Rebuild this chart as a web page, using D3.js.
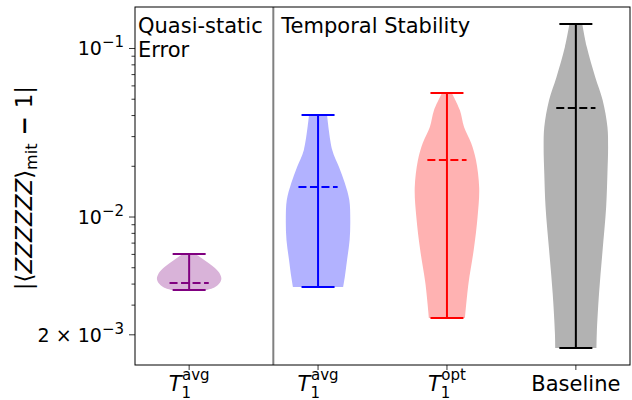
<!DOCTYPE html>
<html>
<head>
<meta charset="utf-8">
<script src="https://cdn.jsdelivr.net/npm/d3@7"></script>
<style>
  body { margin: 0; background: #fff; }
  text { font-family: "DejaVu Sans", sans-serif; fill: #000; }
</style>
</head>
<body>
<div id="chart"></div>
<script>
// violin groups, left to right
var positions = [1, 2, 3, 4];
var lineColors = ["purple", "blue", "red", "black"];
var fillColors = ["rgb(217,179,217)", "rgb(178,178,255)", "rgb(255,178,178)", "rgb(178,178,178)"];
var mins  = [0.00369, 0.00385, 0.00252, 0.00167];
var maxs  = [0.00603, 0.0403, 0.0545, 0.1396];
var means = [0.00406, 0.01506, 0.0218, 0.0443];

// violin outlines: values and relative half widths
var profileValues = [
  [0.00603, 0.00571, 0.00533, 0.00498, 0.00465, 0.00429, 0.00400, 0.00379, 0.00369],
  [0.0403, 0.0250, 0.0198, 0.0159, 0.0126, 0.0096, 0.0073, 0.00556, 0.0044, 0.00385],
  [0.0545, 0.0431, 0.0342, 0.0275, 0.0218, 0.0149, 0.0100, 0.00637, 0.00406, 0.00252],
  [0.1396, 0.102, 0.0678, 0.0495, 0.0342, 0.0260, 0.0182, 0.01147, 0.00637, 0.00354, 0.00205, 0.00167]
];
var profileWidths = [
  [0.2, 0.38, 0.6, 0.8, 0.94, 1.0, 0.92, 0.75, 0.55],
  [0.28, 0.44, 0.65, 0.83, 0.97, 1.0, 0.98, 0.9, 0.83, 0.78],
  [0.15, 0.4, 0.53, 0.75, 0.9, 1.0, 0.95, 0.83, 0.67, 0.56],
  [0.2, 0.34, 0.6, 0.83, 0.98, 1.0, 0.98, 0.94, 0.83, 0.72, 0.65, 0.64]
];

var yMajorTicks = [0.1, 0.01, 0.002];
var yMajorLabels = [["10", "\u22121"], ["10", "\u22122"], ["2 \u00d7 10", "\u22123"]];
var yMinorTicks = [0.003, 0.004, 0.005, 0.006, 0.007, 0.008, 0.009,
                   0.02, 0.03, 0.04, 0.05, 0.06, 0.07, 0.08, 0.09];
var xTickSups = ["avg", "avg", "opt", null];
var xTickTexts = ["T", "T", "T", "Baseline"];
var dividerX = 1.653;

var svgWidth = 632, svgHeight = 400;
var margin = { top: 7, right: 2, bottom: 35, left: 135 };
var width = svgWidth - margin.left - margin.right;
var height = svgHeight - margin.top - margin.bottom;

var svg = d3.select("#chart").append("svg")
    .attr("width", svgWidth)
    .attr("height", svgHeight);

var g = svg.append("g")
    .attr("transform", `translate(${margin.left},${margin.top})`);

var x = d3.scaleLinear().domain([0.58, 4.42]).range([0, width]);
var y = d3.scaleLog().domain([0.001324, 0.1763]).range([height, 0]);

var halfW = 0.25, capW = 0.128, meanW = 0.152;

// violins
positions.forEach(function(p, i) {
  var pts = profileValues[i].map((v, k) => ({ v: v, w: profileWidths[i][k] }));
  var area = d3.area()
      .y(d => y(d.v))
      .x0(d => x(p - halfW * d.w))
      .x1(d => x(p + halfW * d.w))
      .curve(d3.curveCatmullRom);
  g.append("path")
      .datum(pts)
      .attr("d", area)
      .attr("fill", fillColors[i]);
});

// whiskers, caps, means
positions.forEach(function(p, i) {
  var c = lineColors[i];
  g.append("line")
      .attr("x1", x(p)).attr("x2", x(p))
      .attr("y1", y(mins[i])).attr("y2", y(maxs[i]))
      .attr("stroke", c).attr("stroke-width", 2);
  [mins[i], maxs[i]].forEach(function(v) {
    g.append("line")
        .attr("x1", x(p - capW)).attr("x2", x(p + capW))
        .attr("y1", y(v)).attr("y2", y(v))
        .attr("stroke", c).attr("stroke-width", 2);
  });
  g.append("line")
      .attr("x1", x(p - meanW)).attr("x2", x(p + meanW))
      .attr("y1", y(means[i])).attr("y2", y(means[i]))
      .attr("stroke", c).attr("stroke-width", 2)
      .attr("stroke-dasharray", "8,3.5");
});

// divider
g.append("line")
    .attr("x1", x(dividerX)).attr("x2", x(dividerX))
    .attr("y1", 0).attr("y2", height)
    .attr("stroke", "#808080").attr("stroke-width", 2);

// frame
g.append("rect")
    .attr("width", width).attr("height", height)
    .attr("fill", "none").attr("stroke", "#000").attr("stroke-width", 1);

// y ticks
g.selectAll(".ymin").data(yMinorTicks).enter().append("line")
    .attr("x1", -3.5).attr("x2", 0)
    .attr("y1", d => y(d)).attr("y2", d => y(d))
    .attr("stroke", "#000").attr("stroke-width", 0.8);
g.selectAll(".ymaj").data(yMajorTicks).enter().append("line")
    .attr("x1", -6).attr("x2", 0)
    .attr("y1", d => y(d)).attr("y2", d => y(d))
    .attr("stroke", "#000").attr("stroke-width", 0.8);

yMajorTicks.forEach(function(v, i) {
  var t = g.append("text")
      .attr("x", -11).attr("y", y(v) + 7)
      .attr("text-anchor", "end")
      .style("font-size", "19px");
  t.append("tspan").text(yMajorLabels[i][0]);
  t.append("tspan").attr("dy", -8).style("font-size", "15px").text(yMajorLabels[i][1]);
});

// x ticks
positions.forEach(function(p, i) {
  g.append("line")
      .attr("x1", x(p)).attr("x2", x(p))
      .attr("y1", height).attr("y2", height + 5)
      .attr("stroke", "#000").attr("stroke-width", 0.8);
  var t = g.append("text")
      .attr("x", x(p)).attr("y", height + 26)
      .attr("text-anchor", "middle")
      .style("font-size", "21px");
  if (xTickSups[i]) {
    t.append("tspan").style("font-style", "italic").text(xTickTexts[i]);
    t.append("tspan").attr("dy", 7).style("font-size", "15px").text("1");
    t.append("tspan").attr("dx", -9).attr("dy", -18).style("font-size", "15px").text(xTickSups[i]);
  } else {
    t.text(xTickTexts[i]);
  }
});

// section labels
g.append("text").attr("x", 3).attr("y", 26).style("font-size", "21px").text("Quasi-static");
g.append("text").attr("x", 3).attr("y", 50).style("font-size", "21px").text("Error");
g.append("text").attr("x", x(dividerX) + 8).attr("y", 26).style("font-size", "21px").text("Temporal Stability");

// y label
var yl = svg.append("text")
    .attr("transform", `translate(32,${margin.top + height / 2 + 2}) rotate(-90)`)
    .attr("text-anchor", "middle")
    .style("font-size", "23px");
yl.append("tspan").text("|\u27e8");
yl.append("tspan").style("font-style", "italic").text("ZZZZZZ");
yl.append("tspan").text("\u27e9");
yl.append("tspan").attr("dy", 5).style("font-size", "16px").text("mit");
yl.append("tspan").attr("dy", -5).style("font-weight", "bold").text(" \u2212 ");
yl.append("tspan").text("1|");
</script>
</body>
</html>
